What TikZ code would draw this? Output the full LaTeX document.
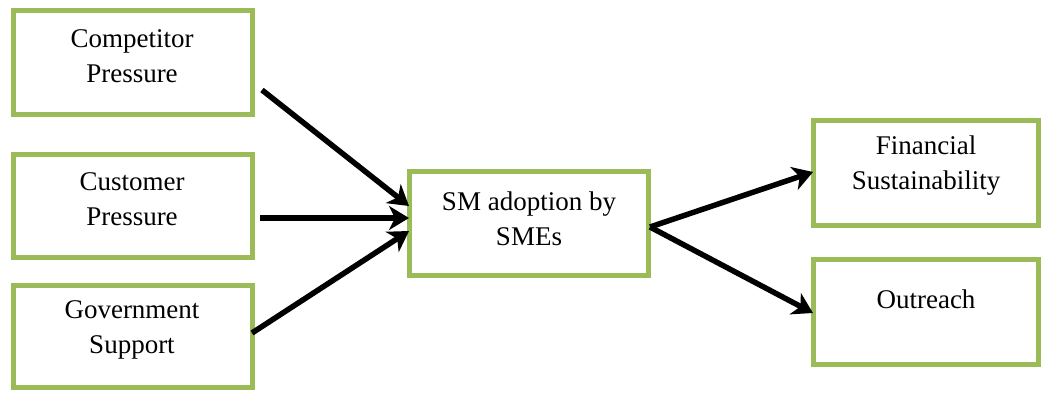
\documentclass[tikz,border=0pt]{standalone}
\usepackage{fontspec}
\setmainfont{Liberation Serif}
\usetikzlibrary{arrows.meta}
\definecolor{boxgreen}{HTML}{9BBB59}
\begin{document}
\begin{tikzpicture}[x=1pt,y=-1pt,
  gbox/.style={draw=boxgreen,line width=5pt,fill=white,rectangle,inner sep=0pt},
  lbl/.style={align=center,font=\fontsize{27}{35}\selectfont,inner sep=0pt},
  arr/.style={line width=5.5pt,-{Stealth[length=20pt,width=24pt,inset=6pt]}}]
\useasboundingbox (0,0) rectangle (1042,392);
\node[gbox,minimum width=239pt,minimum height=104pt] (b1) at (133,62.5) {};
\node[gbox,minimum width=239pt,minimum height=103pt] (b2) at (133,206) {};
\node[gbox,minimum width=239pt,minimum height=102pt] (b3) at (133,336.5) {};
\node[gbox,minimum width=239pt,minimum height=104pt] (c) at (529,223.5) {};
\node[gbox,minimum width=225pt,minimum height=105pt] (f) at (926,173) {};
\node[gbox,minimum width=225pt,minimum height=105pt] (o) at (926,312) {};
\node[lbl] (t1) at (132,56) {Competitor\\Pressure};
\node[lbl] (t2) at (132,199) {Customer\\Pressure};
\node[lbl] (t3) at (132,330) {Government\\Support};
\node[lbl] (tc) at (529,219) {SM adoption by\\SMEs};
\node[lbl] (tf) at (926,166) {Financial\\Sustainability};
\node[lbl] (to) at (926,299) {Outreach};
\coordinate (s1) at (262,90);
\coordinate (s2) at (260,218);
\coordinate (s3) at (252,333);
\coordinate (e1) at (409,206);
\coordinate (e2) at (409,218);
\coordinate (e3) at (409,231);
\coordinate (s4) at (650,227);
\coordinate (e4) at (813,172);
\coordinate (e5) at (813,313);
\draw[arr] (s1) -- (e1);
\draw[arr] (s2) -- (e2);
\draw[arr] (s3) -- (e3);
\draw[arr] (s4) -- (e4);
\draw[arr] (s4) -- (e5);
\end{tikzpicture}
\end{document}
